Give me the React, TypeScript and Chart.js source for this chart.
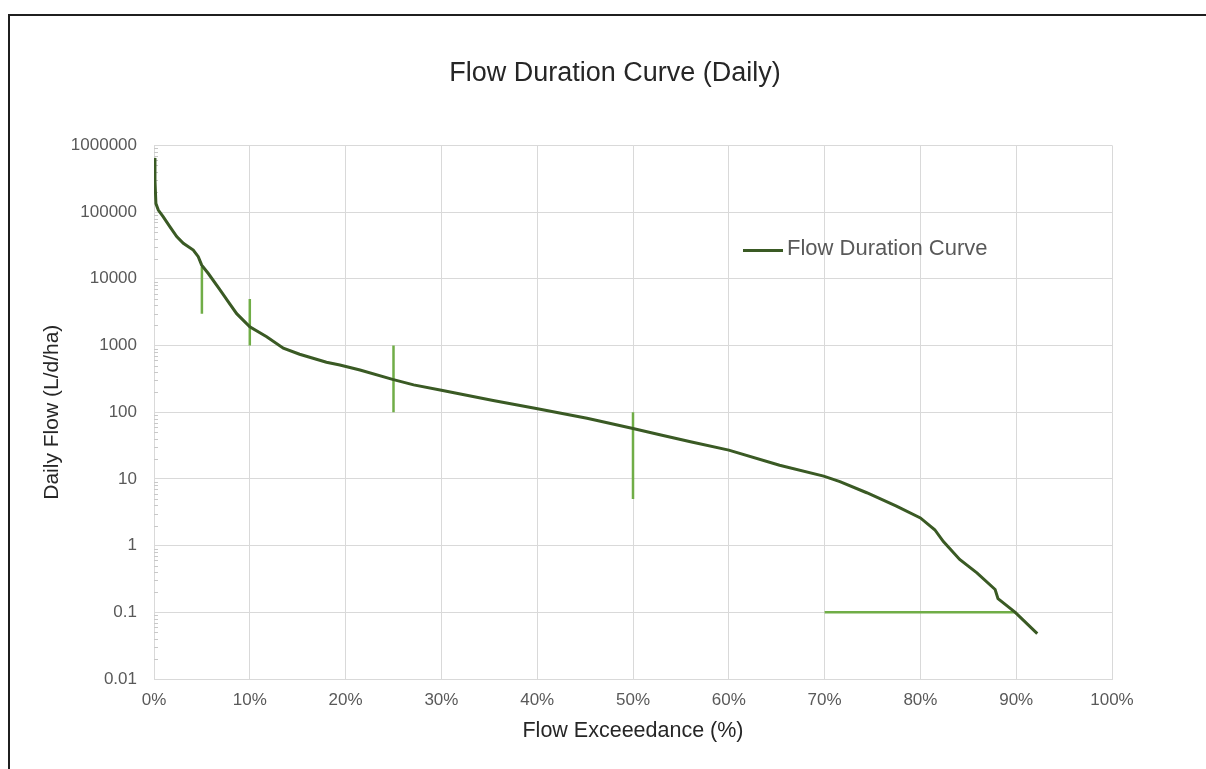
import React, { useEffect, useRef } from "react";
import { Chart, registerables } from "chart.js";

Chart.register(...registerables);

// Flow exceedance (%) and daily flow (L/d/ha)
const PCT = [0, 0.1, 0.2, 0.45, 0.97, 1.67, 2.37, 3.06, 4.1, 4.62, 4.98, 5.67, 6.89, 7.76, 8.63, 10.0, 11.76, 13.5, 15.2, 16.6, 18.0, 19.4, 21.5, 24.9, 27.1, 30.0, 35.4, 39.9, 45.2, 50.0, 52.8, 56.0, 60.0, 65.3, 69.9, 71.6, 74.4, 77.5, 80.0, 81.5, 82.4, 84.1, 85.9, 87.8, 88.1, 89.9, 92.2];
const FLOW = [650000, 300000, 134000, 107000, 85000, 60000, 43000, 34000, 27000, 21500, 16000, 12000, 6800, 4500, 3000, 1900, 1350, 910, 740, 645, 560, 510, 430, 310, 257, 214, 150, 114, 81, 57, 46, 36, 27, 16, 11, 9.1, 6.2, 3.9, 2.6, 1.73, 1.15, 0.62, 0.39, 0.22, 0.16, 0.1, 0.048];

// Target ranges (vertical bars) and the low-flow horizontal bar
const BAR_X = [5, 10, 25, 50];
const BAR_LOW = [3000, 1000, 100, 5];
const BAR_HIGH = [15000, 5000, 1000, 100];
const HBAR_X = [70, 90];
const HBAR_Y = 0.1;

const Y_TICKS = [1000000, 100000, 10000, 1000, 100, 10, 1, 0.1, 0.01];
const Y_TICK_LABELS = ["1000000", "100000", "10000", "1000", "100", "10", "1", "0.1", "0.01"];
const X_TICKS = [0, 10, 20, 30, 40, 50, 60, 70, 80, 90, 100];

const TITLE = "Flow Duration Curve (Daily)";
const X_TITLE = "Flow Exceeedance (%)";
const Y_TITLE = "Daily Flow (L/d/ha)";
const SERIES_LABEL = "Flow Duration Curve";

const FONT = "'Liberation Sans', Arial, sans-serif";
const MAIN_COLOR = "#3a5a24";
const BAR_COLOR = "#70ad47";
const GRID_COLOR = "#d9d9d9";
const TICK_COLOR = "#595959";

const minorTicksPlugin = {
  id: "minorTicks",
  beforeDatasetsDraw(chart: any) {
    const ys = chart.scales.y;
    const area = chart.chartArea;
    const ctx = chart.ctx;
    ctx.save();
    ctx.strokeStyle = "#c8c8c8";
    ctx.lineWidth = 1;
    for (let k = -2; k < 6; k++) {
      for (let m = 2; m <= 9; m++) {
        const v = m * Math.pow(10, k);
        const y = Math.round(ys.getPixelForValue(v)) + 0.5;
        ctx.beginPath();
        ctx.moveTo(area.left, y);
        ctx.lineTo(area.left + 4, y);
        ctx.stroke();
      }
    }
    ctx.restore();
  },
};

const legendPlugin = {
  id: "insideLegend",
  afterDraw(chart: any) {
    const area = chart.chartArea;
    const ctx = chart.ctx;
    const ds = chart.data.datasets[0];
    const x0 = area.left + 589;
    const y = area.top + 105;
    ctx.save();
    ctx.strokeStyle = ds.borderColor;
    ctx.lineWidth = 3;
    ctx.beginPath();
    ctx.moveTo(x0, y);
    ctx.lineTo(x0 + 40, y);
    ctx.stroke();
    ctx.fillStyle = TICK_COLOR;
    ctx.font = `22px ${FONT}`;
    ctx.textBaseline = "middle";
    ctx.textAlign = "left";
    ctx.fillText(ds.label, x0 + 44, y - 1);
    ctx.restore();
  },
};

export default function App() {
  const canvasRef = useRef<HTMLCanvasElement | null>(null);

  useEffect(() => {
    const canvas = canvasRef.current;
    if (!canvas) return;
    const mainData = PCT.map((p, i) => ({ x: p, y: FLOW[i] }));
    const barSets = BAR_X.map((bx, i) => ({
      label: `bar${i}`,
      data: [
        { x: bx, y: BAR_LOW[i] },
        { x: bx, y: BAR_HIGH[i] },
      ],
      borderColor: BAR_COLOR,
      backgroundColor: BAR_COLOR,
      borderWidth: 2.5,
      pointRadius: 0,
      tension: 0,
      fill: false,
    }));
    const hbar = {
      label: "hbar",
      data: HBAR_X.map((x) => ({ x, y: HBAR_Y })),
      borderColor: BAR_COLOR,
      backgroundColor: BAR_COLOR,
      borderWidth: 2.5,
      pointRadius: 0,
      tension: 0,
      fill: false,
    };

    const chart = new Chart(canvas, {
      type: "line",
      data: {
        datasets: [
          {
            label: SERIES_LABEL,
            data: mainData,
            borderColor: MAIN_COLOR,
            backgroundColor: MAIN_COLOR,
            borderWidth: 3,
            pointRadius: 0,
            tension: 0,
            fill: false,
          } as any,
          ...barSets,
          hbar,
        ],
      },
      options: {
        responsive: false,
        animation: false,
        font: { family: FONT },
        layout: { padding: { left: 20, right: 6, top: 0, bottom: 17 } },
        plugins: {
          legend: { display: false },
          tooltip: { enabled: false },
          title: {
            display: true,
            text: TITLE,
            color: "#262626",
            font: { family: FONT, size: 27, weight: "normal" },
            padding: { top: 41, bottom: 56 },
          },
        },
        scales: {
          x: {
            type: "linear",
            min: 0,
            max: 100,
            afterBuildTicks: (s: any) => {
              s.ticks = X_TICKS.map((v) => ({ value: v }));
            },
            afterFit: (s: any) => {
              s.height = 65;
            },
            ticks: {
              autoSkip: false,
              maxRotation: 0,
              padding: 11,
              color: TICK_COLOR,
              font: { family: FONT, size: 17 },
              callback: (v: any) => `${v}%`,
            },
            grid: { color: GRID_COLOR, drawTicks: false, lineWidth: 1 },
            border: { color: GRID_COLOR },
            title: {
              display: true,
              text: X_TITLE,
              color: "#262626",
              font: { family: FONT, size: 21.5 },
              padding: { top: 0, bottom: 0 },
            },
          },
          y: {
            type: "logarithmic",
            position: "left",
            min: 0.01,
            max: 1000000,
            afterBuildTicks: (s: any) => {
              s.ticks = Y_TICKS.map((v) => ({ value: v }));
            },
            afterFit: (s: any) => {
              s.width = 124;
            },
            ticks: {
              autoSkip: false,
              padding: 17,
              color: TICK_COLOR,
              font: { family: FONT, size: 17 },
              callback: (v: any) => {
                const i = Y_TICKS.findIndex((t) => Math.abs(t - v) / t < 1e-6);
                return i >= 0 ? Y_TICK_LABELS[i] : "";
              },
            },
            grid: { color: GRID_COLOR, drawTicks: false, lineWidth: 1 },
            border: { color: GRID_COLOR },
            title: {
              display: true,
              text: Y_TITLE,
              color: "#262626",
              font: { family: FONT, size: 21 },
              padding: { top: 10, bottom: 0 },
            },
          },
          y2: {
            type: "linear",
            position: "right",
            display: true,
            afterFit: (s: any) => {
              s.width = 88;
            },
            ticks: { display: false },
            grid: { display: false, drawTicks: false },
            border: { display: false },
            title: { display: false },
          },
        },
      } as any,
      plugins: [minorTicksPlugin, legendPlugin],
    });
    return () => chart.destroy();
  }, []);

  return (
    <div style={{ paddingTop: 6 }}>
      <div
        style={{
          position: "fixed",
          top: 14,
          left: 8,
          right: 0,
          height: 2,
          background: "#1f1f1f",
        }}
      />
      <div
        style={{
          position: "fixed",
          top: 14,
          left: 8,
          bottom: 0,
          width: 2,
          background: "#1f1f1f",
        }}
      />
      <div
        style={{
          width: 1198,
          height: 747,
          boxSizing: "border-box",
          paddingTop: 2,
          paddingLeft: 2,
        }}
      >
        <canvas
          ref={canvasRef}
          width={1196}
          height={745}
          style={{ display: "block", width: 1196, height: 745 }}
        />
      </div>
    </div>
  );
}
